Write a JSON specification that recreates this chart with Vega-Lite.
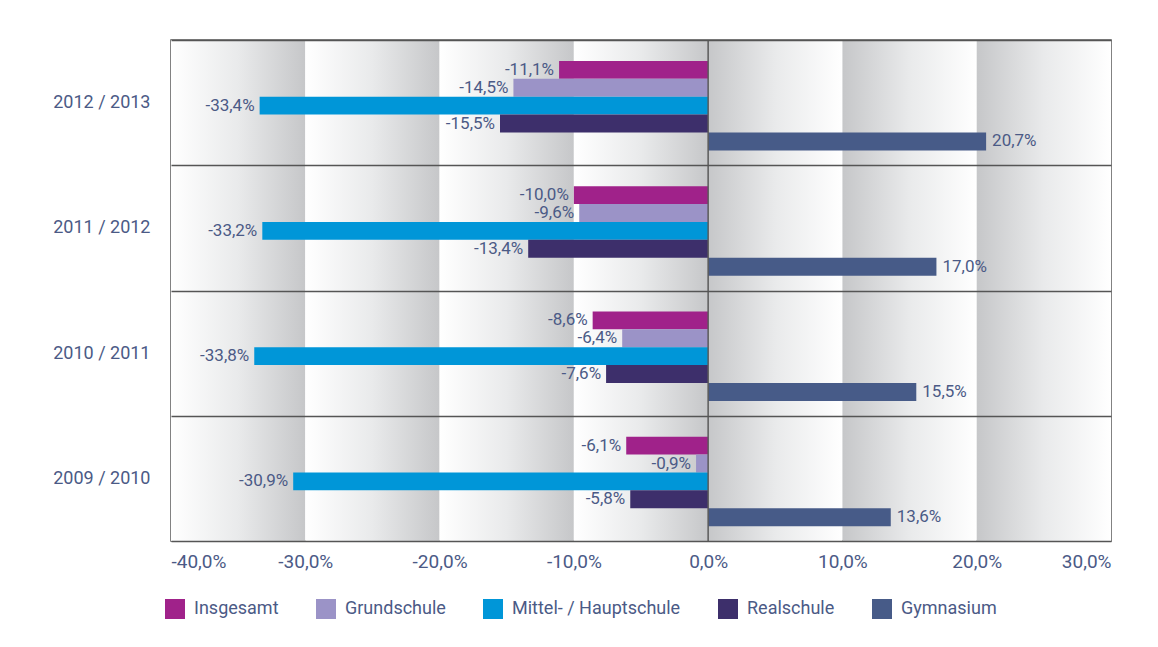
{
  "$schema": "https://vega.github.io/schema/vega-lite/v6.json",
  "width": 940,
  "height": 501,
  "autosize": "none",
  "padding": {"left": 171, "top": 40, "right": 47, "bottom": 106},
  "background": "#ffffff",
  "datasets": {
    "bars": [
      {"jahr": "2012 / 2013", "schulart": "Insgesamt", "wert": -11.1},
      {"jahr": "2012 / 2013", "schulart": "Grundschule", "wert": -14.5},
      {"jahr": "2012 / 2013", "schulart": "Mittel- / Hauptschule", "wert": -33.4},
      {"jahr": "2012 / 2013", "schulart": "Realschule", "wert": -15.5},
      {"jahr": "2012 / 2013", "schulart": "Gymnasium", "wert": 20.7},
      {"jahr": "2011 / 2012", "schulart": "Insgesamt", "wert": -10.0},
      {"jahr": "2011 / 2012", "schulart": "Grundschule", "wert": -9.6},
      {"jahr": "2011 / 2012", "schulart": "Mittel- / Hauptschule", "wert": -33.2},
      {"jahr": "2011 / 2012", "schulart": "Realschule", "wert": -13.4},
      {"jahr": "2011 / 2012", "schulart": "Gymnasium", "wert": 17.0},
      {"jahr": "2010 / 2011", "schulart": "Insgesamt", "wert": -8.6},
      {"jahr": "2010 / 2011", "schulart": "Grundschule", "wert": -6.4},
      {"jahr": "2010 / 2011", "schulart": "Mittel- / Hauptschule", "wert": -33.8},
      {"jahr": "2010 / 2011", "schulart": "Realschule", "wert": -7.6},
      {"jahr": "2010 / 2011", "schulart": "Gymnasium", "wert": 15.5},
      {"jahr": "2009 / 2010", "schulart": "Insgesamt", "wert": -6.1},
      {"jahr": "2009 / 2010", "schulart": "Grundschule", "wert": -0.9},
      {"jahr": "2009 / 2010", "schulart": "Mittel- / Hauptschule", "wert": -30.9},
      {"jahr": "2009 / 2010", "schulart": "Realschule", "wert": -5.8},
      {"jahr": "2009 / 2010", "schulart": "Gymnasium", "wert": 13.6}
    ],
    "negbands": [
      {"von": -40, "bis": -30},
      {"von": -30, "bis": -20},
      {"von": -20, "bis": -10},
      {"von": -10, "bis": 0}
    ],
    "posbands": [
      {"von": 0, "bis": 10},
      {"von": 10, "bis": 20},
      {"von": 20, "bis": 30}
    ],
    "zero": [{"x": 0}]
  },
  "config": {
    "font": "Roboto",
    "view": {"stroke": "#5a5a5a", "strokeWidth": 1.5},
    "axis": {"labelFont": "Roboto", "labelColor": "#4b5a86"},
    "legend": {"labelFont": "Roboto", "labelColor": "#4b5a86"},
    "scale": {"offsetBandPaddingInner": 0, "offsetBandPaddingOuter": 1.27}
  },
  "layer": [
    {
      "data": {"name": "negbands"},
      "mark": {
        "type": "rect",
        "color": {
          "gradient": "linear", "x1": 0, "y1": 0, "x2": 1, "y2": 0,
          "stops": [
            {"offset": 0, "color": "#ffffff"},
            {"offset": 0.5, "color": "#e9eaeb"},
            {"offset": 1, "color": "#c6c7c9"}
          ]
        }
      },
      "encoding": {
        "x": {"field": "von", "type": "quantitative"},
        "x2": {"field": "bis"}
      }
    },
    {
      "data": {"name": "posbands"},
      "mark": {
        "type": "rect",
        "color": {
          "gradient": "linear", "x1": 0, "y1": 0, "x2": 1, "y2": 0,
          "stops": [
            {"offset": 0, "color": "#c6c7c9"},
            {"offset": 0.5, "color": "#e9eaeb"},
            {"offset": 1, "color": "#ffffff"}
          ]
        }
      },
      "encoding": {
        "x": {"field": "von", "type": "quantitative"},
        "x2": {"field": "bis"}
      }
    },
    {
      "data": {"name": "bars"},
      "mark": {"type": "bar", "cornerRadius": 0},
      "encoding": {
        "y": {
          "field": "jahr", "type": "nominal",
          "sort": ["2012 / 2013", "2011 / 2012", "2010 / 2011", "2009 / 2010"],
          "scale": {"paddingInner": 0, "paddingOuter": 0},
          "axis": {
            "title": null, "ticks": false, "domain": false, "zindex": 1,
            "grid": true, "tickBand": "extent", "gridColor": "#555555", "gridWidth": 1.3,
            "labelFontSize": 18, "labelPadding": 21
          }
        },
        "yOffset": {
          "field": "schulart", "type": "nominal",
          "sort": ["Insgesamt", "Grundschule", "Mittel- / Hauptschule", "Realschule", "Gymnasium"],
          "scale": {"paddingInner": 0, "paddingOuter": 1.27, "align": 0.585}
        },
        "x": {
          "field": "wert", "type": "quantitative",
          "scale": {"domain": [-40, 30], "nice": false, "zero": false},
          "axis": {
            "title": null, "values": [-40, -30, -20, -10, 0, 10, 20, 30],
            "labelExpr": "(datum.value < 0 ? '-' : '') + replace(format(abs(datum.value), '.1f'), '.', ',') + '%'",
            "ticks": false, "domain": false, "grid": false,
            "labelFontSize": 19, "labelPadding": 11
          }
        },
        "color": {
          "field": "schulart", "type": "nominal",
          "sort": ["Insgesamt", "Grundschule", "Mittel- / Hauptschule", "Realschule", "Gymnasium"],
          "scale": {
            "domain": ["Insgesamt", "Grundschule", "Mittel- / Hauptschule", "Realschule", "Gymnasium"],
            "range": ["#a0228a", "#9b93c7", "#0096d8", "#3d2f6b", "#475b88"]
          },
          "legend": {
            "title": null, "orient": "none", "direction": "horizontal", "columns": 5,
            "legendX": -6, "legendY": 559,
            "symbolType": "square", "symbolSize": 400, "symbolStrokeWidth": 0,
            "labelFontSize": 18, "labelOffset": 9, "columnPadding": 37, "labelLimit": 400
          }
        }
      }
    },
    {
      "data": {"name": "bars"},
      "transform": [
        {"filter": "datum.wert < 0"},
        {"calculate": "'-' + replace(format(abs(datum.wert), '.1f'), '.', ',') + '%'", "as": "label"}
      ],
      "mark": {"type": "text", "align": "right", "baseline": "middle", "dx": -5, "fontSize": 17, "color": "#4b5a86"},
      "encoding": {
        "y": {"field": "jahr", "type": "nominal", "sort": ["2012 / 2013", "2011 / 2012", "2010 / 2011", "2009 / 2010"], "scale": {"paddingInner": 0, "paddingOuter": 0}},
        "yOffset": {"field": "schulart", "type": "nominal", "sort": ["Insgesamt", "Grundschule", "Mittel- / Hauptschule", "Realschule", "Gymnasium"], "scale": {"paddingInner": 0, "paddingOuter": 1.27, "align": 0.585}},
        "x": {"field": "wert", "type": "quantitative"},
        "text": {"field": "label"}
      }
    },
    {
      "data": {"name": "bars"},
      "transform": [
        {"filter": "datum.wert >= 0"},
        {"calculate": "replace(format(datum.wert, '.1f'), '.', ',') + '%'", "as": "label"}
      ],
      "mark": {"type": "text", "align": "left", "baseline": "middle", "dx": 6, "fontSize": 17, "color": "#4b5a86"},
      "encoding": {
        "y": {"field": "jahr", "type": "nominal", "sort": ["2012 / 2013", "2011 / 2012", "2010 / 2011", "2009 / 2010"], "scale": {"paddingInner": 0, "paddingOuter": 0}},
        "yOffset": {"field": "schulart", "type": "nominal", "sort": ["Insgesamt", "Grundschule", "Mittel- / Hauptschule", "Realschule", "Gymnasium"], "scale": {"paddingInner": 0, "paddingOuter": 1.27, "align": 0.585}},
        "x": {"field": "wert", "type": "quantitative"},
        "text": {"field": "label"}
      }
    },
    {
      "data": {"name": "zero"},
      "mark": {"type": "rule", "color": "#5a5a5a", "strokeWidth": 1.5},
      "encoding": {"x": {"field": "x", "type": "quantitative"}}
    }
  ]
}
